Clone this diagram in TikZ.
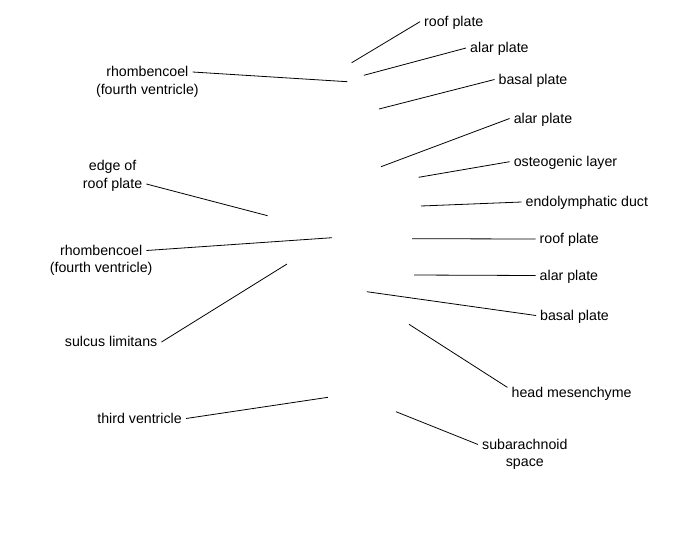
\documentclass[tikz,border=0pt]{standalone}
\usepackage{fontspec}
\setmainfont{Liberation Sans}
\usetikzlibrary{positioning}
\begin{document}
\begin{tikzpicture}[x=1pt,y=-1pt,every node/.style={font=\fontsize{14.2}{16}\selectfont,inner xsep=4pt,inner ysep=0pt,text height=11.5pt,text depth=2.5pt},leader/.style={draw,line width=0.8pt}]
\useasboundingbox (0,0) rectangle (675,550);

% labels on the right
\node[anchor=west] (roofA) at (420,21.7) {roof plate};
\node[anchor=west] (alarA) at (466,48) {alar plate};
\node[anchor=west] (basalA) at (494.5,79.5) {basal plate};
\node[anchor=west] (alarB) at (509.6,118.5) {alar plate};
\node[anchor=west] (osteo) at (509.6,161.7) {osteogenic layer};
\node[anchor=west] (endo) at (521.5,202) {endolymphatic duct};
\node[anchor=west] (roofB) at (535.5,239) {roof plate};
\node[anchor=west] (alarC) at (535.5,275.5) {alar plate};
\node[anchor=west] (basalB) at (536,315.5) {basal plate};
\node[anchor=west] (mesen) at (507.4,393) {head mesenchyme};
\node[anchor=west] (subA) at (478,444.5) {subarachnoid};
\node (subB) [below=3.5pt of subA] {space};

% labels on the left
\node[anchor=east] (rhombA) at (192.6,72) {rhombencoel};
\node (rhombA2) [below=3.5pt of rhombA] {(fourth ventricle)};
\node[anchor=east] (edgeB) at (146.4,184) {roof plate};
\node (edgeA) [above=3.5pt of edgeB] {edge of};
\node[anchor=east] (rhombB) at (146.4,250.5) {rhombencoel};
\node (rhombB2) [below=3.5pt of rhombB] {(fourth ventricle)};
\node[anchor=east] (sulcus) at (161.5,342) {sulcus limitans};
\node[anchor=east] (third) at (186,418.5) {third ventricle};

% pointer ends
\coordinate (roofAtip) at (351.7,62.7);
\coordinate (alarAtip) at (363.8,75.3);
\coordinate (basalAtip) at (379,109);
\coordinate (alarBtip) at (381,166.7);
\coordinate (osteotip) at (418.6,177.3);
\coordinate (endotip) at (420.8,206);
\coordinate (roofBtip) at (412,238.7);
\coordinate (alarCtip) at (414,275);
\coordinate (basalBtip) at (366.8,291.7);
\coordinate (mesentip) at (409,324.3);
\coordinate (subtip) at (396,411.7);
\coordinate (rhombAtip) at (347.4,81.7);
\coordinate (edgetip) at (267.6,215.7);
\coordinate (rhombBtip) at (332,237.7);
\coordinate (sulcustip) at (287,264);
\coordinate (thirdtip) at (328,397.3);

\draw[leader] (roofAtip) -- (roofA.west);
\draw[leader] (alarAtip) -- (alarA.west);
\draw[leader] (basalAtip) -- (basalA.west);
\draw[leader] (alarBtip) -- (alarB.west);
\draw[leader] (osteotip) -- (osteo.west);
\draw[leader] (endotip) -- (endo.west);
\draw[leader] (roofBtip) -- (roofB.west);
\draw[leader] (alarCtip) -- (alarC.west);
\draw[leader] (basalBtip) -- (basalB.west);
\draw[leader] (mesentip) -- (mesen.175);
\draw[leader] (subtip) -- (subA.west);
\draw[leader] (rhombAtip) -- (rhombA.east);
\draw[leader] (edgetip) -- (edgeB.east);
\draw[leader] (rhombBtip) -- (rhombB.east);
\draw[leader] (sulcustip) -- (sulcus.east);
\draw[leader] (thirdtip) -- (third.east);
\end{tikzpicture}
\end{document}
